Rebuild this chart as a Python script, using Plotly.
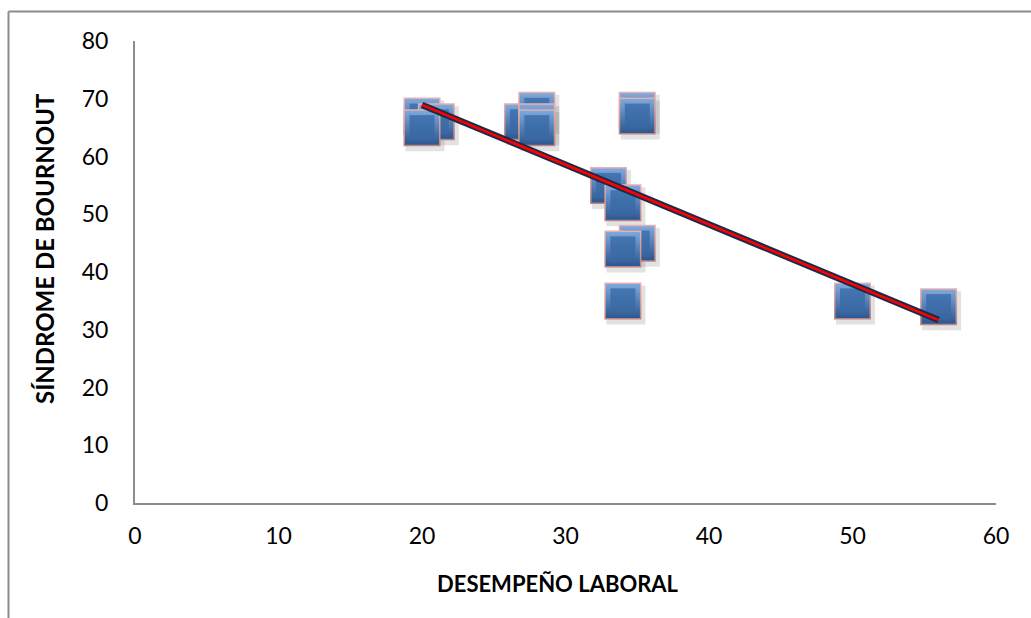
import numpy as np
import plotly.graph_objects as go

# Desempeño laboral (x) vs. Síndrome de Bournout (y)
desempeno = [20, 21, 20, 27, 28, 28, 28, 35, 35, 33, 34, 35, 34, 34, 50, 56]
bournout = [67, 66, 65, 66, 68, 66, 65, 68, 67, 55, 52, 45, 44, 35, 35, 34]

x_ticks = [0, 10, 20, 30, 40, 50, 60]
y_ticks = [0, 10, 20, 30, 40, 50, 60, 70, 80]

x_title = "DESEMPEÑO LABORAL"
y_title = "SÍNDROME DE BOURNOUT"

# least-squares trend line
slope, intercept = np.polyfit(desempeno, bournout, 1)
trend_x = [min(desempeno), max(desempeno)]
trend_y = [slope * v + intercept for v in trend_x]

W, H = 1031, 618
L, R, T, B = 135, 35, 41, 115
plot_w, plot_h = W - L - R, H - T - B
x_rng, y_rng = [0, 60], [0, 80]
# shadow shift in pixels (right, down) converted to axis units
sx = 3 * (x_rng[1] - x_rng[0]) / plot_w
sy = 4 * (y_rng[1] - y_rng[0]) / plot_h

FONT = "Lato"
fig = go.Figure()

# drop shadows on the hidden base axes (shifted range)
fig.add_trace(go.Scatter(
    x=desempeno, y=bournout, mode="markers", xaxis="x", yaxis="y",
    marker=dict(symbol="square", size=39, color="rgba(60,60,60,0.15)", line=dict(width=0)),
    hoverinfo="skip", showlegend=False))

# bevelled square markers, one point at a time so overlaps stack correctly
for xv, yv in zip(desempeno, bournout):
    fig.add_trace(go.Scatter(
        x=[xv], y=[yv], mode="markers", xaxis="x2", yaxis="y2",
        marker=dict(symbol="square", size=37, color="#E7B1AF",
                    gradient=dict(type="vertical", color="#B98584"),
                    line=dict(width=0)),
        hoverinfo="skip", showlegend=False))
    fig.add_trace(go.Scatter(
        x=[xv], y=[yv], mode="markers", xaxis="x2", yaxis="y2",
        marker=dict(symbol="square", size=34, color="#7FA8DC",
                    gradient=dict(type="vertical", color="#2D5790"),
                    line=dict(width=0)),
        hoverinfo="skip", showlegend=False))
    fig.add_trace(go.Scatter(
        x=[xv], y=[yv], mode="markers", xaxis="x2", yaxis="y2",
        marker=dict(symbol="square", size=25, color="#4476B2",
                    gradient=dict(type="vertical", color="#3866A0"),
                    line=dict(width=0)),
        hovertemplate="%{x}, %{y}<extra></extra>", showlegend=False))

# trend line: dark outline with red core
fig.add_trace(go.Scatter(x=trend_x, y=trend_y, mode="lines", xaxis="x2", yaxis="y2",
                         line=dict(color="#1C2A48", width=6.5), hoverinfo="skip",
                         showlegend=False))
fig.add_trace(go.Scatter(x=trend_x, y=trend_y, mode="lines", xaxis="x2", yaxis="y2",
                         line=dict(color="#FF0000", width=2.6), hoverinfo="skip",
                         showlegend=False))

axis_common = dict(showgrid=False, zeroline=False, ticks="",
                   tickfont=dict(family=FONT, size=23, color="#000000"))

fig.update_layout(
    width=W, height=H,
    margin=dict(l=L, r=R, t=T, b=B),
    paper_bgcolor="white", plot_bgcolor="white",
    xaxis=dict(range=[x_rng[0] - sx, x_rng[1] - sx], visible=False),
    yaxis=dict(range=[y_rng[0] + sy, y_rng[1] + sy], visible=False),
    xaxis2=dict(overlaying="x", side="bottom", range=x_rng, tickvals=x_ticks,
                showline=True, linecolor="#8C8C8C", linewidth=2,
                ticklabelstandoff=11, **axis_common),
    yaxis2=dict(overlaying="y", side="left", range=y_rng, tickvals=y_ticks,
                showline=True, linecolor="#8C8C8C", linewidth=2,
                ticklabelstandoff=20, **axis_common),
    annotations=[
        dict(text=f"<b>{x_title}</b>", xref="paper", yref="paper",
             x=(558 - L) / plot_w, y=(H - B - 583) / plot_h,
             showarrow=False, xanchor="center", yanchor="middle",
             font=dict(family=FONT, size=22, color="#000000")),
        dict(text=f"<b>{y_title}</b>", xref="paper", yref="paper",
             x=(45 - L) / plot_w, y=(H - B - 249) / plot_h, textangle=-90,
             showarrow=False, xanchor="center", yanchor="middle",
             font=dict(family=FONT, size=24, color="#000000")),
    ],
    shapes=[
        # outer chart frame (left and top edges)
        dict(type="line", xref="paper", yref="paper",
             x0=(8.5 - L) / plot_w, x1=(8.5 - L) / plot_w,
             y0=(H - B - H - 5) / plot_h, y1=(H - B - 11.5) / plot_h,
             line=dict(color="#8C8C8C", width=2)),
        dict(type="line", xref="paper", yref="paper",
             x0=(8.5 - L) / plot_w, x1=(W + 5 - L) / plot_w,
             y0=(H - B - 11.5) / plot_h, y1=(H - B - 11.5) / plot_h,
             line=dict(color="#8C8C8C", width=2)),
    ],
)

fig.write_html("out.html")
